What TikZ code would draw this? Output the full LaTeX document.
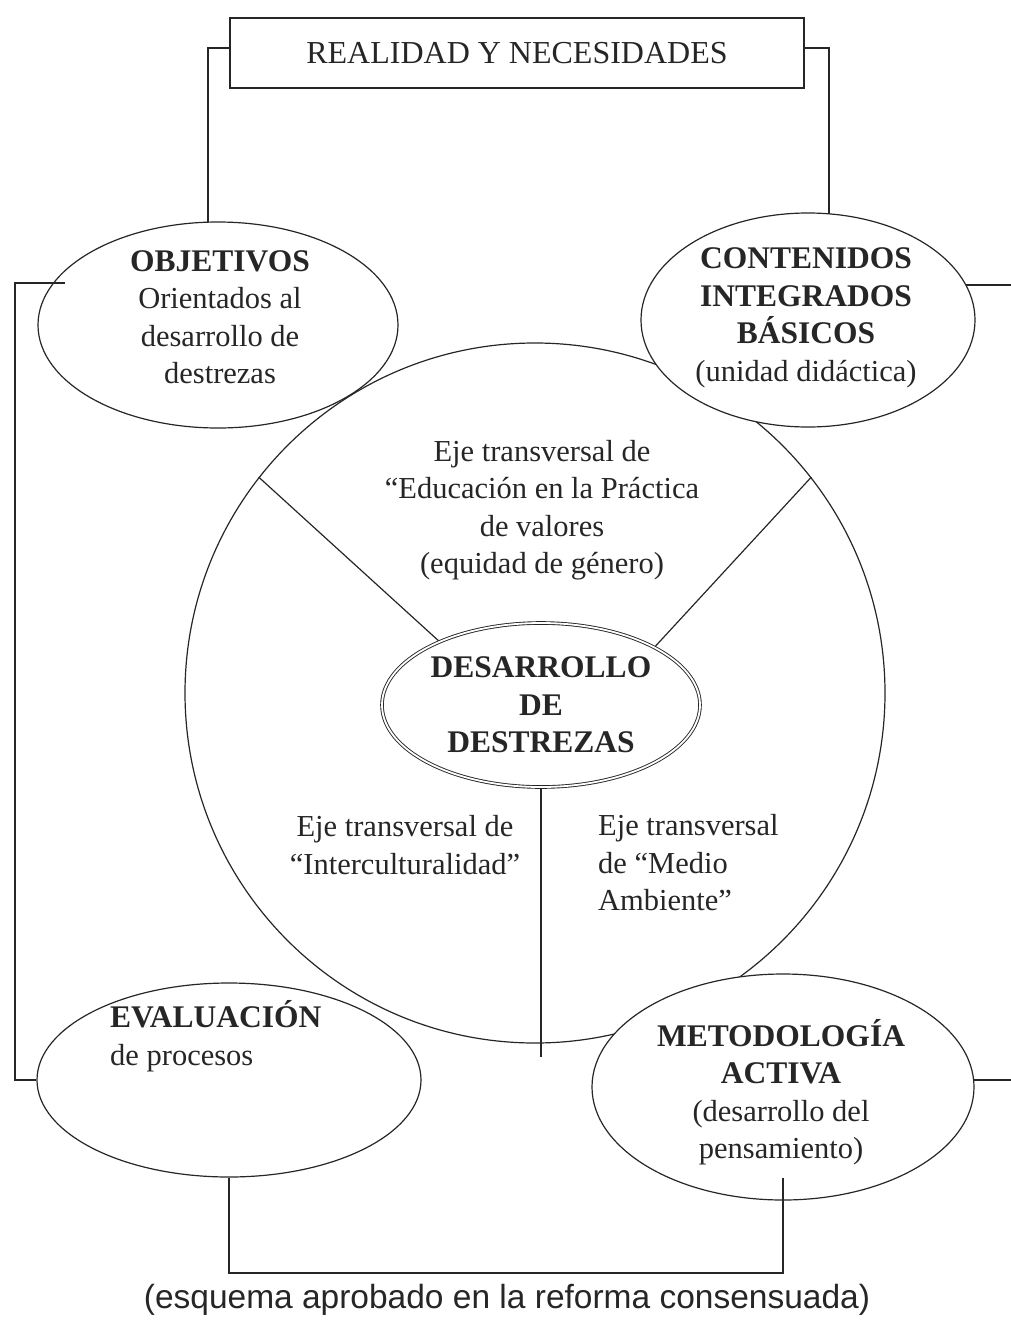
\documentclass[tikz,border=0pt]{standalone}
\usepackage{fontspec}
\setmainfont{Liberation Serif}
\newfontfamily\capfont{Liberation Sans}
\usepackage{tikz}
\usetikzlibrary{shapes.geometric, backgrounds, calc}
\definecolor{ink}{gray}{0.15}
\newcommand{\hd}[1]{{\fontsize{31.5}{37.5}\selectfont\bfseries #1}}

\begin{document}
\begin{tikzpicture}[x=1pt, y=-1pt,
  oval/.style={ellipse, draw=ink, fill=white, line width=1.2pt, inner sep=0pt},
  txt/.style={align=center, inner sep=0pt, text=ink, font=\fontsize{30.5}{37.5}\selectfont},
  link/.style={draw=ink, line width=1.2pt}
]
  \useasboundingbox (0,0) rectangle (1011,1328);
  % big circle, drawn first so the ellipses cover it
  \node[circle, draw=ink, line width=1.2pt, minimum size=700pt, inner sep=0pt] (ring) at (535,693) {};
  % title box
  \node[draw=ink, line width=1.2pt, fill=white, minimum width=574pt, minimum height=70pt,
        inner sep=0pt, text=ink, font=\fontsize{32}{38}\selectfont] (title) at (517,53) {REALIDAD Y NECESIDADES};
  % outer ellipses and the centre one
  \node[oval, minimum width=360pt, minimum height=206pt] (obj) at (218,325) {};
  \node[oval, minimum width=334pt, minimum height=214pt] (con) at (808,320) {};
  \node[oval, minimum width=384pt, minimum height=194pt] (eva) at (229,1080) {};
  \node[oval, minimum width=382pt, minimum height=226pt] (met) at (783,1087) {};
  \node[oval, double=white, double distance=1.8pt, line width=0.9pt,
        minimum width=318pt, minimum height=164pt] (des) at (541,705) {};
  % texts
  \node[txt] (objtx) at (220,317) {\hd{OBJETIVOS}\\Orientados al\\desarrollo de\\destrezas};
  \node[txt] (contx) at (806,318) {\hd{CONTENIDOS}\\\hd{INTEGRADOS}\\\hd{BÁSICOS}\\(unidad didáctica)};
  \node[txt, anchor=west, align=left] (evatx) at (110,1036) {\hd{EVALUACIÓN}\\de procesos};
  \node[txt] (mettx) at (781,1092) {\hd{METODOLOGÍA}\\\hd{ACTIVA}\\(desarrollo del\\pensamiento)};
  \node[txt] (destx) at (541,705) {\hd{DESARROLLO}\\\hd{DE}\\\hd{DESTREZAS}};
  \node[txt] (ejetop) at (542,510) {Eje transversal de\\“Educación en la Práctica\\de valores\\(equidad de género)};
  \node[txt] (ejeint) at (405,845) {Eje transversal de\\“Interculturalidad”};
  \node[txt, anchor=west, align=left] (ejemed) at (598,863) {Eje transversal\\de “Medio\\Ambiente”};
  \node[inner sep=0pt, text=ink, font=\capfont\fontsize{33.5}{40}\selectfont] (cap) at (507,1300)
    {(esquema aprobado en la reforma consensuada)};

  \coordinate (tl) at (208,48);
  \coordinate (tr) at (829,48);
  \coordinate (spend) at (542,1057);
  \begin{scope}[on background layer]
    % spokes of the circle
    \draw[link] (ring.142.5) -- (des.148);
    \draw[link] (ring.38.5) -- (des.27);
    \draw[link] (des.south) -- (des.south |- spend);
    % brackets from the title box
    \draw[link] (title.west |- tl) -- (tl) -- (tl |- obj.center);
    \draw[link] (title.east |- tr) -- (tr) -- (tr |- con.center);
    % stubs running off the right edge
    \foreach \n/\y in {con/285, met/1080}
      \draw[link] (\n.center |- 0,\y) -- (1011,\y);
  \end{scope}
  % left and bottom links
  \coordinate (objin) at (65,283);
  \coordinate (metin) at (783,1178);
  \draw[link] (objin) -- (15,283) |- (eva.west);
  \draw[link] (eva.south) |- (metin |- 0,1273) -- (metin);
\end{tikzpicture}
\end{document}
